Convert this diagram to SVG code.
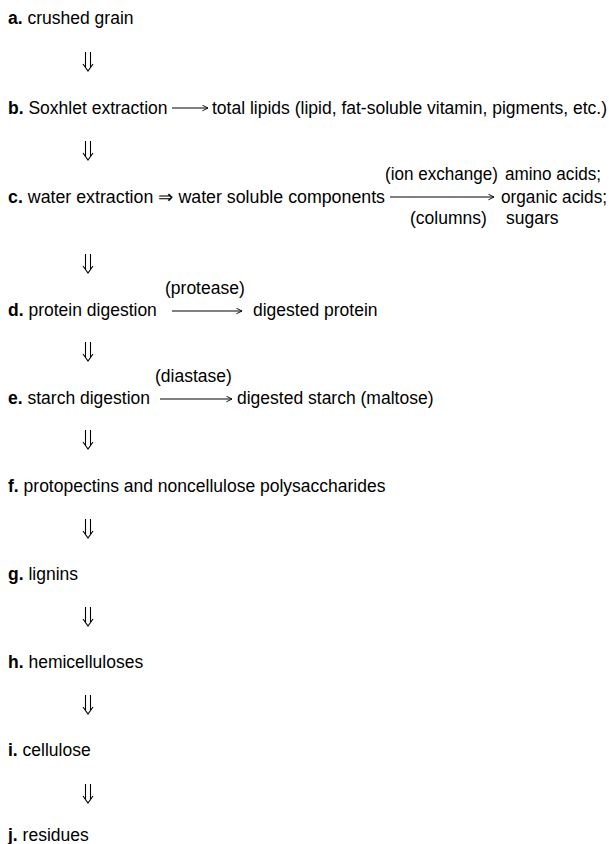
<svg xmlns="http://www.w3.org/2000/svg" width="609" height="844" viewBox="0 0 609 844">
<defs>
<style>
text{font-family:"Liberation Sans",Arial,sans-serif;font-size:17.5px;fill:#000}
.b{font-weight:bold}
.ln{stroke:#000;stroke-width:1;fill:none}
.dbl{stroke:#000;stroke-width:1.1;fill:none}
</style>
<marker id="ah" viewBox="0 0 10 10" refX="9" refY="5" markerWidth="7" markerHeight="7" markerUnits="userSpaceOnUse" orient="auto">
<path d="M1,1 L9,5 L1,9" fill="none" stroke="#000" stroke-width="1.3"/>
</marker>
<g id="dn">
<path class="dbl" d="M-2.5,-9 V6 M2.5,-9 V6 M-5,3 L0,10 L5,3"/>
</g>
</defs>
<rect width="609" height="844" fill="#fff"/>
<g id="connectors">
<use href="#dn" x="88" y="61"/>
<use href="#dn" x="88" y="150"/>
<use href="#dn" x="88" y="263"/>
<use href="#dn" x="88" y="351"/>
<use href="#dn" x="88" y="439"/>
<use href="#dn" x="88" y="528"/>
<use href="#dn" x="88" y="616"/>
<use href="#dn" x="88" y="704"/>
<use href="#dn" x="88" y="793"/>
<line class="ln" x1="172" y1="108" x2="208" y2="108" marker-end="url(#ah)"/>
<line class="ln" x1="390" y1="197" x2="494" y2="197" marker-end="url(#ah)"/>
<line class="ln" x1="172" y1="311" x2="242" y2="311" marker-end="url(#ah)"/>
<line class="ln" x1="160" y1="399" x2="232" y2="399" marker-end="url(#ah)"/>
</g>
<g id="node-a"><text x="8" y="24"><tspan class="b">a.</tspan> crushed grain</text></g>
<g id="node-b"><text x="8" y="114"><tspan class="b">b.</tspan> Soxhlet extraction</text></g>
<g id="node-b-out"><text x="212" y="114" textLength="395" lengthAdjust="spacingAndGlyphs">total lipids (lipid, fat-soluble vitamin, pigments, etc.)</text></g>
<g id="node-c"><text x="8" y="203" textLength="377" lengthAdjust="spacingAndGlyphs"><tspan class="b">c.</tspan> water extraction ⇒ water soluble components</text></g>
<g id="node-c-label"><text x="385" y="180" textLength="113" lengthAdjust="spacingAndGlyphs">(ion exchange)</text><text x="410" y="224">(columns)</text></g>
<g id="node-c-out"><text x="505" y="180" textLength="96" lengthAdjust="spacingAndGlyphs">amino acids;</text><text x="501" y="203" textLength="106" lengthAdjust="spacingAndGlyphs">organic acids;</text><text x="506" y="224">sugars</text></g>
<g id="node-d"><text x="8" y="316"><tspan class="b">d.</tspan> protein digestion</text></g>
<g id="node-d-label"><text x="165" y="294">(protease)</text></g>
<g id="node-d-out"><text x="253" y="316">digested protein</text></g>
<g id="node-e"><text x="8" y="404"><tspan class="b">e.</tspan> starch digestion</text></g>
<g id="node-e-label"><text x="155" y="382">(diastase)</text></g>
<g id="node-e-out"><text x="237" y="404">digested starch (maltose)</text></g>
<g id="node-f"><text x="8" y="492"><tspan class="b">f.</tspan> protopectins and noncellulose polysaccharides</text></g>
<g id="node-g"><text x="8" y="580"><tspan class="b">g.</tspan> lignins</text></g>
<g id="node-h"><text x="8" y="668"><tspan class="b">h.</tspan> hemicelluloses</text></g>
<g id="node-i"><text x="8" y="756"><tspan class="b">i.</tspan> cellulose</text></g>
<g id="node-j"><text x="8" y="841"><tspan class="b">j.</tspan> residues</text></g>
</svg>
